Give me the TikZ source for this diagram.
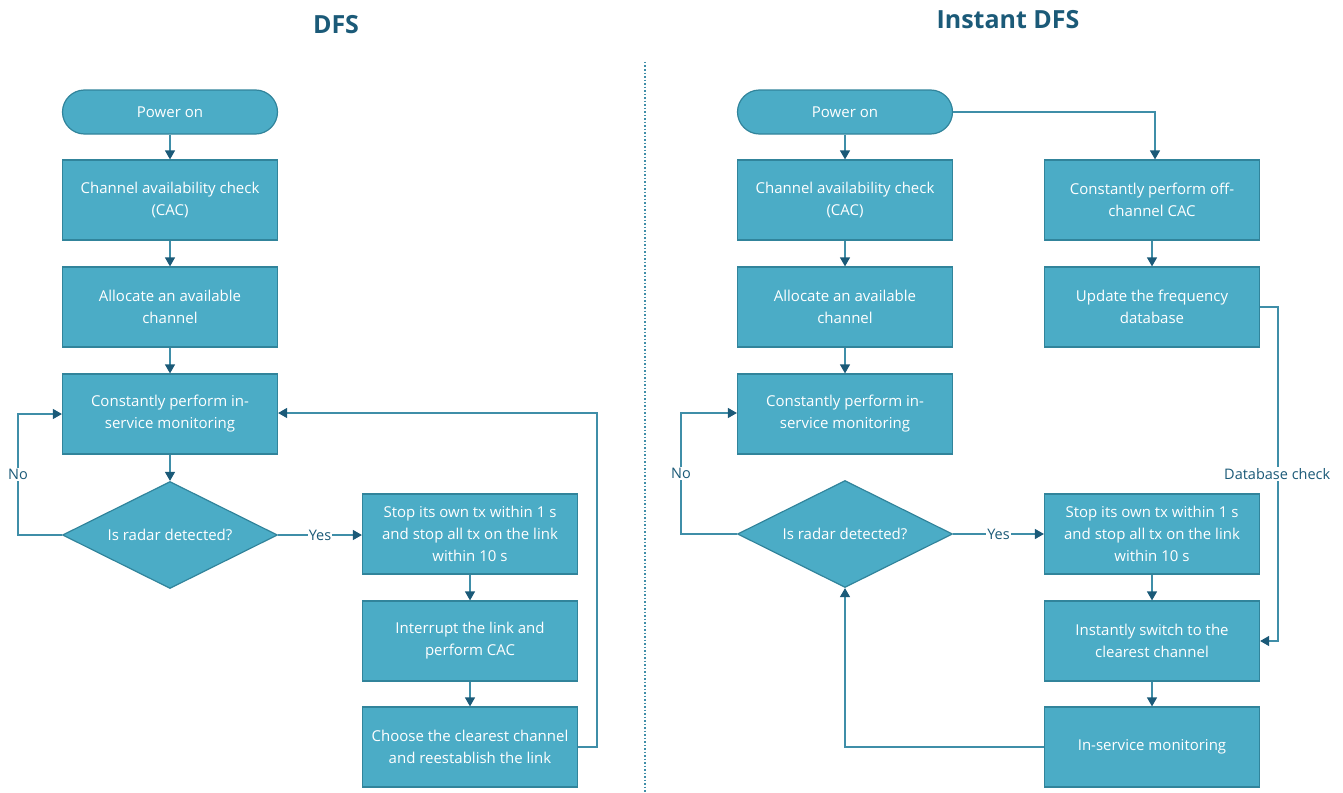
\documentclass[tikz,border=0pt]{standalone}
\usepackage{fontspec}
\setmainfont{Open Sans}
\usetikzlibrary{shapes.geometric,arrows.meta}
\definecolor{boxfill}{HTML}{4BACC6}
\definecolor{boxdraw}{HTML}{31849B}
\definecolor{linec}{HTML}{3F8EA8}
\definecolor{headc}{HTML}{1B5A78}
\definecolor{titlec}{HTML}{1B5A78}
\tikzset{
  box/.style={draw=boxdraw, line width=1.2pt, fill=boxfill, minimum width=215pt, minimum height=80pt, text=white, align=center, font=\fontsize{15}{22}\selectfont, inner sep=0pt},
  pill/.style={box, rounded corners=22pt, minimum height=44pt},
  decision/.style={diamond, draw=boxdraw, line width=1.2pt, fill=boxfill, minimum width=215pt, minimum height=107pt, aspect=2, inner sep=0pt, text=white, font=\fontsize{15}{22}\selectfont},
  conn/.style={draw=linec, line width=1.2pt, -{Triangle[width=10pt,length=9pt,color=headc]}},
  lbl/.style={fill=white, text=headc, font=\fontsize{14.5}{16}\selectfont, inner sep=1pt},
  ttl/.style={text=titlec, font=\fontsize{25}{30}\selectfont\bfseries}
}
\begin{document}
\begin{tikzpicture}[x=1pt,y=-1pt]
\useasboundingbox (0,0) rectangle (1343,792);
% titles
\node[ttl] (t1) at (336,25) {DFS};
\node[ttl] (t2) at (1008,20) {Instant DFS};
% divider
\draw[linec, line width=1.5pt, dotted] (645,62) -- (645,792);

% ---- left: DFS ----
\node[pill] (lp) at (170,112) {Power on};
\node[box] (lcac) at (170,200) {Channel availability check\\(CAC)};
\node[box] (lall) at (170,307) {Allocate an available\\channel};
\node[box] (lmon) at (170,414) {Constantly perform in-\\service monitoring};
\node[decision] (ldec) at (170,535) {Is radar detected?};
\node[box] (lstop) at (470,534) {Stop its own tx within 1 s\\and stop all tx on the link\\within 10 s};
\node[box] (lint) at (470,641) {Interrupt the link and\\perform CAC};
\node[box] (lcho) at (470,747) {Choose the clearest channel\\and reestablish the link};

\draw[conn] (lp) -- (lcac);
\draw[conn] (lcac) -- (lall);
\draw[conn] (lall) -- (lmon);
\draw[conn] (lmon) -- (ldec);
\draw[conn] (lstop) -- (lint);
\draw[conn] (lint) -- (lcho);
\draw[conn] (ldec.east) -- node[lbl, pos=0.5] (lyes) {Yes} (lstop.west |- ldec.east);
\draw[conn] (ldec.west) -- (18,535) -- node[lbl, pos=0.5] (lno) {No} (18,414) -- (lmon.west);
\draw[conn] (lcho.east) -- (597,747) -- (597,413) -- (lmon.east |- 0,413);

% ---- right: Instant DFS ----
\node[pill] (rp) at (845,112) {Power on};
\node[box] (rcac) at (845,200) {Channel availability check\\(CAC)};
\node[box] (rall) at (845,307) {Allocate an available\\channel};
\node[box] (rmon) at (845,414) {Constantly perform in-\\service monitoring};
\node[decision] (rdec) at (845,534) {Is radar detected?};
\node[box] (roff) at (1152,200) {Constantly perform off-\\channel CAC};
\node[box] (rupd) at (1152,307) {Update the frequency\\database};
\node[box] (rstop) at (1152,534) {Stop its own tx within 1 s\\and stop all tx on the link\\within 10 s};
\node[box] (rsw) at (1152,641) {Instantly switch to the\\clearest channel};
\node[box] (rism) at (1152,747) {In-service monitoring};

\draw[conn] (rp) -- (rcac);
\draw[conn] (rcac) -- (rall);
\draw[conn] (rall) -- (rmon);
\draw[conn] (rp.east) -- (1155,112) -- (roff.north -| 1155,0);
\draw[conn] (roff) -- (rupd);
\draw[conn] (rdec.east) -- node[lbl, pos=0.5] (ryes) {Yes} (rstop.west |- rdec.east);
\draw[conn] (rdec.west) -- (681,534) -- node[lbl, pos=0.5] (rno) {No} (681,413) -- (rmon.west |- 0,413);
\draw[conn] (rstop) -- (rsw);
\draw[conn] (rsw) -- (rism);
\draw[conn] (rism.west) -- (845,747) -- (rdec.south);
\draw[conn] (rupd.east) -- (1278,307) -- (1278,641) -- (rsw.east);
\node[lbl, anchor=west] (dbc) at (1223,474) {Database check};
\end{tikzpicture}
\end{document}
